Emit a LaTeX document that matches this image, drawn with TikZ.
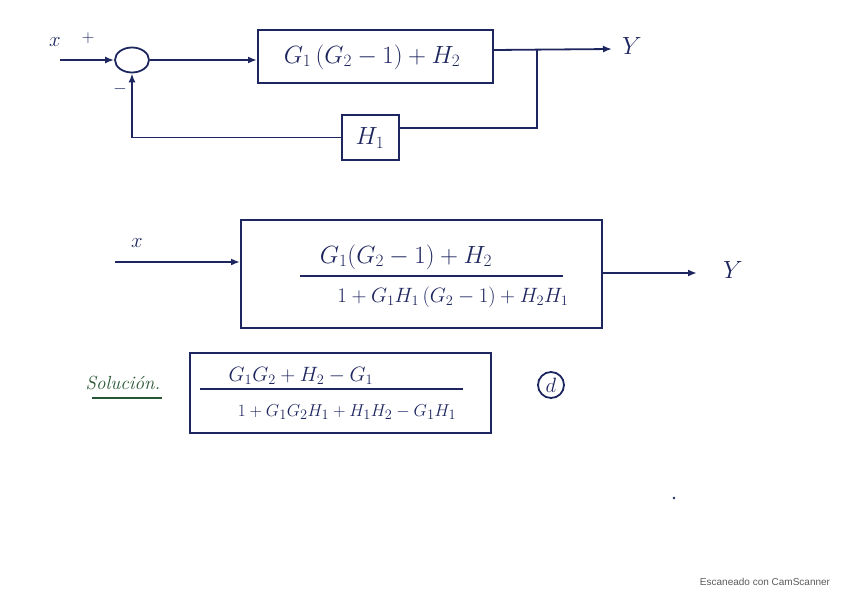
\documentclass[tikz,border=0pt]{standalone}
\usepackage{fontspec}
\usetikzlibrary{arrows.meta,shapes.geometric}
\definecolor{ink}{RGB}{30,38,95}
\definecolor{greenink}{RGB}{40,85,50}
\definecolor{scangray}{RGB}{90,90,90}
\newfontfamily\scanfont{Liberation Sans}
\tikzset{
  wire/.style={draw=ink,line width=1.8pt},
  flow/.style={wire,-{Latex[length=9pt,width=7pt]}},
  blockbox/.style={draw=ink,line width=2pt,inner sep=0pt},
  lbl/.style={text=ink,inner sep=0pt},
}
\begin{document}
\begin{tikzpicture}[x=1pt,y=-1pt]
\useasboundingbox (0,0) rectangle (848,599);
% ---------- first diagram ----------
\node[lbl,font=\fontsize{22}{24}\selectfont] (x1) at (55,42) {$x$};
\node[lbl,font=\fontsize{18}{20}\selectfont] (plus) at (88,38) {$+$};
\coordinate (in1) at (60,60);
\node[draw=ink,line width=1.8pt,ellipse,minimum width=34pt,minimum height=25pt,inner sep=0pt] (sum) at (132,60) {};
\node[lbl,font=\fontsize{18}{20}\selectfont] (minus) at (120,89) {$-$};
\node[blockbox,minimum width=235pt,minimum height=53pt] (b1) at (375.5,56.5) {};
\node[lbl,font=\fontsize{27}{30}\selectfont] (t1) at (372,57) {$G_1\,(G_2-1)+H_2$};
\coordinate (y1) at (612,49);
\node[lbl,font=\fontsize{24}{26}\selectfont] (Y1) at (632,46) {$Y$};
\coordinate (br) at (537,50);
\coordinate (brd) at (537,128);
\node[blockbox,minimum width=57pt,minimum height=45pt] (h1) at (370.5,137.5) {};
\node[lbl,font=\fontsize{24}{26}\selectfont] (th1) at (370,138) {$H_1$};
\coordinate (fbl) at (132,136);
\draw[flow] (in1) -- (sum.west);
\draw[flow] (sum.east) -- (b1.west |- sum.east);
\draw[flow] (b1.east |- br) -- (y1);
\draw[wire] (br) -- (brd) -- (h1.east |- brd);
\draw[wire] (h1.west) -- (fbl |- h1.west);
\draw[flow] (fbl |- h1.west) -- (sum.south);
% ---------- second diagram ----------
\node[lbl,font=\fontsize{20}{22}\selectfont] (x2) at (137,243) {$x$};
\coordinate (in2) at (115,262);
\node[blockbox,minimum width=361pt,minimum height=108pt] (b2) at (421.5,274) {};
\node[lbl,font=\fontsize{23}{26}\selectfont] (n2) at (406,257) {$G_1(G_2-1)+H_2$};
\coordinate (f2a) at (300,276);
\coordinate (f2b) at (563,276);
\draw[wire] (f2a) -- (f2b);
\node[lbl,font=\fontsize{20}{22}\selectfont] (d2) at (453,297) {$1+G_1H_1\,(G_2-1)+H_2H_1$};
\coordinate (y2) at (697,273);
\node[lbl,font=\fontsize{24}{26}\selectfont] (Y2) at (733,270) {$Y$};
\draw[flow] (in2) -- (b2.west |- in2);
\draw[flow] (b2.east |- y2) -- (y2);
% ---------- solution ----------
\node[text=greenink,inner sep=0pt,font=\fontsize{19}{21}\selectfont\itshape] (sol) at (123,383) {Solución.};
\coordinate (ul1) at (92,398);
\coordinate (ul2) at (162,398);
\draw[draw=greenink,line width=1.8pt] (ul1) -- (ul2);
\node[blockbox,minimum width=301pt,minimum height=80pt] (b3) at (340.5,393) {};
\node[lbl,font=\fontsize{21}{23}\selectfont] (n3) at (301,376) {$G_1G_2+H_2-G_1$};
\coordinate (f3a) at (200,389);
\coordinate (f3b) at (463,389);
\draw[wire] (f3a) -- (f3b);
\node[lbl,font=\fontsize{19}{21}\selectfont] (d3) at (347,412) {$1+G_1G_2H_1+H_1H_2-G_1H_1$};
\node[draw=ink,line width=1.8pt,circle,minimum size=26pt,inner sep=0pt,text=ink,font=\fontsize{20}{22}\selectfont] (dd) at (551,385) {$d$};
% ---------- stray mark and watermark ----------
\fill[ink] (674,498) circle (1.3pt);
\node[text=scangray,inner sep=0pt,font=\scanfont\fontsize{10}{12}\selectfont] (wm) at (765,582) {Escaneado con CamScanner};
\end{tikzpicture}
\end{document}
